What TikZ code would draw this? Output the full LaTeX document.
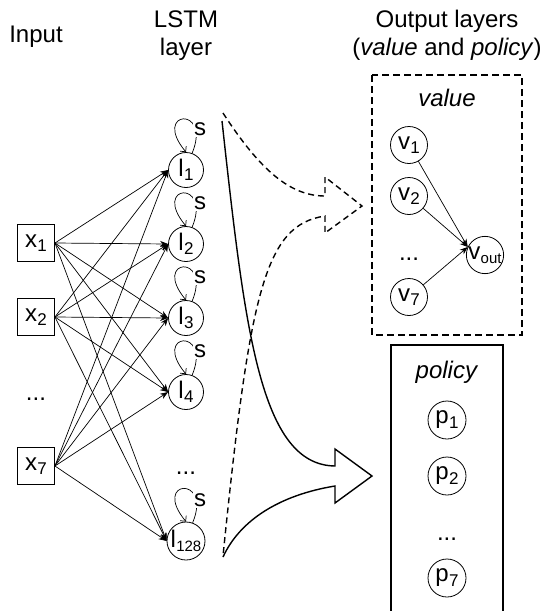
\documentclass[tikz,border=0pt]{standalone}
\usepackage{fontspec}
\setmainfont{Liberation Sans}
\usetikzlibrary{arrows.meta}
% label with a lowered, smaller index
\newcommand\idx[2]{#1\kern0.3pt\raisebox{-4.5pt}{\fontsize{17}{17}\selectfont #2}}
\newcommand\smidx[2]{#1\kern0.2pt\raisebox{-4.5pt}{\fontsize{15}{15}\selectfont #2}}

\begin{document}
\begin{tikzpicture}[x=1pt,y=-1pt,
  font=\fontsize{24}{28}\selectfont,
  every node/.style={inner sep=0pt},
  title/.style={anchor=base},
  inbox/.style={draw,line width=0.9pt,minimum size=37pt},
  neuron/.style={draw,circle,line width=0.8pt,minimum size=35pt},
  bigneuron/.style={neuron,minimum size=38pt},
  edge/.style={line width=0.7pt,-{Stealth[length=8pt,width=6pt]}},
  selfloop/.style={line width=0.7pt,-{Straight Barb[length=4pt,width=8pt]}},
  looplabel/.style={fill=white,inner sep=1pt},
  bigarrow/.style={line width=1.4pt,line join=miter,line cap=butt},
  dashline/.style={dash pattern=on 6pt off 4pt},
  boxdash/.style={line width=1.4pt,dash pattern=on 7pt off 4pt},
  boxsolid/.style={line width=1.4pt}]

\useasboundingbox (0,0) rectangle (548,611);
\clip (0,0) rectangle (548,611);

% column headings
\node[title] (hin) at (36,42) {Input};
\node[title] (hlstm1) at (186,27) {LSTM};
\node[title] (hlstm2) at (186,55) {layer};
\node[title] (hout1) at (447,27) {Output layers};
\node[title] (hout2) at (447,55) {(\textit{value} and \textit{policy})};

% input units
\node[inbox] (x1) at (36,243) {\idx{x}{1}};
\node[inbox] (x2) at (36,317) {\idx{x}{2}};
\node[title] (xdots) at (36,400) {...};
\node[inbox] (x7) at (36,466) {\idx{x}{7}};

% LSTM units
\node[neuron] (l1) at (186,170) {\idx{l}{1}};
\node[neuron] (l2) at (186,244) {\idx{l}{2}};
\node[neuron] (l3) at (186,318) {\idx{l}{3}};
\node[neuron] (l4) at (186,392) {\idx{l}{4}};
\node[title] (ldots) at (186,474) {...};
\node[bigneuron] (l128) at (186,541) {\smidx{l}{128}};

% full connections input -> LSTM
\foreach \s in {x1,x2,x7}
  \foreach \t in {l1,l2,l3,l4,l128}
    \draw[edge] (\s.east) -- (\t.west);

% recurrent self connections, label drawn over the loop
\foreach \t in {l1,l2,l3,l4,l128} {
  \draw[selfloop] (\t.70) .. controls +(20,-48) and +(-35,-42) .. (\t.north);
  \node[looplabel] (s\t) at ([xshift=14pt,yshift=41pt]\t.center) {s};
}

% value head
\draw[boxdash] (372,75) rectangle (522,335);
\node[title] (vlabel) at (447,106) {\textit{value}};
\node[neuron,minimum size=37pt] (v1) at (409,145) {\idx{v}{1}};
\node[neuron,minimum size=37pt] (v2) at (409,196) {\idx{v}{2}};
\node[title] (vdots) at (409,260) {...};
\node[neuron,minimum size=37pt] (v7) at (409,297) {\idx{v}{7}};
\node[neuron,minimum size=37pt] (vout) at (485,255) {\smidx{v}{out}};
\foreach \s in {v1,v2,v7}
  \draw[edge] (\s) -- (vout.155);

% policy head
\draw[boxsolid] (391,345) rectangle (503,630);
\node[title] (plabel) at (447,378) {\textit{policy}};
\node[neuron,minimum size=38pt] (p1) at (447,420) {\idx{p}{1}};
\node[neuron,minimum size=38pt] (p2) at (447,476) {\idx{p}{2}};
\node[title] (pdots) at (447,540) {...};
\node[neuron,minimum size=38pt] (p7) at (447,578) {\idx{p}{7}};

% flow arrows from the LSTM layer to the heads
\draw[bigarrow,dashline] (223,113) .. controls (260,170) and (290,196) .. (325,196)
  -- (325,177) -- (362,206) -- (325,233) -- (325,216)
  .. controls (265,225) and (250,290) .. (223,556);
\draw[bigarrow] (222,121) .. controls (245,330) and (260,465) .. (335,466)
  -- (335,449) -- (372,476) -- (335,503) -- (335,486)
  .. controls (280,495) and (240,520) .. (223,557);
\end{tikzpicture}
\end{document}
